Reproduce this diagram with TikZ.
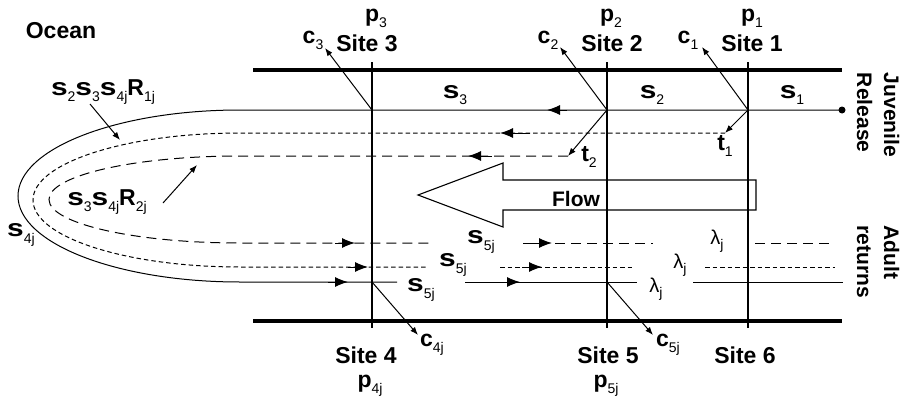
\documentclass[tikz,border=0pt]{standalone}
\usepackage{fontspec}
\setmainfont{Liberation Sans}
\usetikzlibrary{arrows.meta}
\newcommand\sbs[1]{\raisebox{-0.27em}{\fontsize{14}{14}\selectfont\mdseries #1}}
\newcommand\bl[2]{\textbf{#1}\sbs{#2}}
\newcommand\ws{\scalebox{1.3}[1.05]{\textbf{s}}}
\newcommand\bs[1]{\ws\sbs{#1}}
\begin{document}
\begin{tikzpicture}[x=1pt,y=-1pt,
  thinln/.style={line width=1pt},
  bank/.style={line width=4pt},
  vline/.style={line width=1.1pt},
  dotln/.style={line width=1pt,dash pattern=on 4.5pt off 3pt},
  dashln/.style={line width=1pt,dash pattern=on 10pt off 6pt},
  midtip/.style={line width=1pt,-{Latex[length=13pt,width=10pt]}},
  ptr/.style={line width=1pt,-{Latex[length=8pt,width=6pt]}},
  lab/.style={inner sep=0pt,font=\fontsize{23}{23}\selectfont\bfseries},
  lam/.style={inner sep=0pt,font=\fontsize{20}{20}\selectfont},
  side/.style={inner sep=0pt,rotate=-90,align=left,font=\fontsize{21}{27}\selectfont\bfseries},
]
\useasboundingbox (0,0) rectangle (905,399);

% river banks
\draw[bank] (253,70) coordinate (bTL) -- (842,70) coordinate (bTR);
\draw[bank] (253,321) coordinate (bBL) -- (842,321) coordinate (bBR);

% site lines
\draw[vline] (372,62) coordinate (v3t) -- (372,328) coordinate (v3b);
\draw[vline] (607,62) coordinate (v2t) -- (607,328) coordinate (v2b);
\draw[vline] (748,62) coordinate (v1t) -- (748,328) coordinate (v1b);

% junctions
\coordinate (J1) at (748,110);
\coordinate (J2) at (607,110);
\coordinate (J3) at (372,110);
\coordinate (J4) at (372,282);
\coordinate (J5) at (607,282);

% flow arrow
\draw[line width=1.1pt] (418,195) -- (503,163) -- (503,180) -- (756,180) -- (756,210) -- (503,210) -- (503,227) -- cycle;
\node[inner sep=0pt,font=\fontsize{21}{21}\selectfont\bfseries] (flow) at (576,199) {Flow};

% release dot
\node[circle,fill,inner sep=0pt,minimum size=7pt] (rel) at (842,110) {};

% main loop paths
\draw[thinln] (rel.center) -- (240,110) arc[start angle=90,end angle=270,x radius=222pt,y radius=86pt] -- (397,282) coordinate (s1e);
\coordinate (t1) at (725,133);
\coordinate (t2) at (568,156);
\draw[dotln] (t1) -- (240,133) arc[start angle=90,end angle=270,x radius=207pt,y radius=67pt] -- (428,267) coordinate (d1e);
\draw[dashln] (t2) -- (240,156) arc[start angle=90,end angle=270,x radius=191pt,y radius=43.5pt] -- (430,243) coordinate (l1e);

% lower segments
\draw[dashln] (523,243) coordinate (l2s) -- (653,243) coordinate (l2e);
\draw[dashln] (755,243) coordinate (l3s) -- (835,243) coordinate (l3e);
\draw[dotln] (500,267) coordinate (d2s) -- (635,267) coordinate (d2e);
\draw[dotln] (705,267) coordinate (d3s) -- (835,267) coordinate (d3e);
\draw[thinln] (465,282) coordinate (s2s) -- (637,282) coordinate (s2e);
\draw[thinln] (693,282) coordinate (s3s) -- (843,282) coordinate (s3e);

% mid-line arrowheads
\draw[midtip] (567,110) -- (547,110);
\draw[midtip] (530,133) -- (500,133);
\draw[midtip] (492,156) -- (468,156);
\draw[midtip] (335,243) -- (355,243);
\draw[midtip] (532,243) -- (552,243);
\draw[midtip] (348,267) -- (368,267);
\draw[midtip] (522,267) -- (542,267);
\draw[midtip] (328,282) -- (348,282);
\draw[midtip] (500,282) -- (520,282);

% junction arrows
\coordinate (c1p) at (702,47);
\coordinate (c2p) at (560,47);
\coordinate (c3p) at (325,48);
\coordinate (c4p) at (418,335);
\coordinate (c5p) at (653,335);
\draw[ptr] (J1) -- (t1);
\draw[ptr] (J1) -- (c1p);
\draw[ptr] (J2) -- (t2);
\draw[ptr] (J2) -- (c2p);
\draw[ptr] (J3) -- (c3p);
\draw[ptr] (J4) -- (c4p);
\draw[ptr] (J5) -- (c5p);

% labels top
\node[lab] (ocean) at (61,31) {Ocean};
\node[lab] (p3) at (376,18) {\bl{p}{3}};
\node[lab] (p2) at (611,18) {\bl{p}{2}};
\node[lab] (p1) at (752,18) {\bl{p}{1}};
\node[lab] (site3) at (367,43) {Site 3};
\node[lab] (site2) at (612,43) {Site 2};
\node[lab] (site1) at (752,43) {Site 1};
\node[lab] (c3) at (313,40) {\bl{c}{3}};
\node[lab] (c2) at (548,40) {\bl{c}{2}};
\node[lab] (c1) at (688,40) {\bl{c}{1}};
\node[lab] (s3) at (455,95) {\bs{3}};
\node[lab] (s2) at (652,95) {\bs{2}};
\node[lab] (s1) at (792,95) {\bs{1}};
\node[lab] (t1l) at (725,146) {\bl{t}{1}};
\node[lab] (t2l) at (589,157) {\bl{t}{2}};
\node[side] (juv) at (878,115) {Juvenile\\Release};
\node[side] (adult) at (878,262) {Adult\\returns};

% lower labels
\node[lab] (s5a) at (481,242) {\bs{5j}};
\node[lab] (s5b) at (453,265) {\bs{5j}};
\node[lab] (s5c) at (421,290) {\bs{5j}};
\node[lam] (la) at (717,241) {λ\sbs{j}};
\node[lam] (lb) at (680,265) {λ\sbs{j}};
\node[lam] (lc) at (656,289) {λ\sbs{j}};
\node[lab] (c4) at (432,345) {\bl{c}{4j}};
\node[lab] (c5) at (668,345) {\bl{c}{5j}};
\node[lab] (site4) at (366,355) {Site 4};
\node[lab] (site5) at (608,355) {Site 5};
\node[lab] (site6) at (745,355) {Site 6};
\node[lab] (p4) at (370,386) {\bl{p}{4j}};
\node[lab] (p5) at (606,386) {\bl{p}{5j}};

% left labels
\node[lab] (R1) at (103,92) {\bs{2}\bs{3}\bs{4j}\bl{R}{1j}};
\node[lab] (R2) at (107,202) {\bs{3}\bs{4j}\bl{R}{2j}};
\node[lab] (s4) at (21,235) {\bs{4j}};
\coordinate (a1s) at (90,104);
\coordinate (a1e) at (120,140);
\coordinate (a2s) at (163,203);
\coordinate (a2e) at (197,165);
\draw[ptr] (a1s) -- (a1e);
\draw[ptr] (a2s) -- (a2e);
\end{tikzpicture}
\end{document}
